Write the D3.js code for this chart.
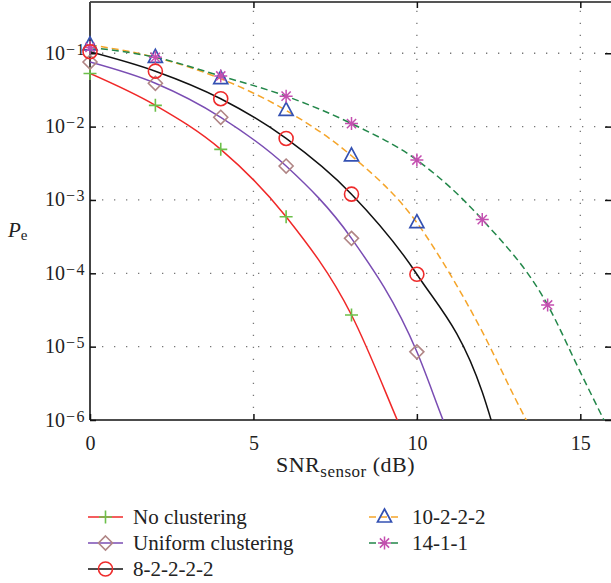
<!DOCTYPE html>
<html><head><meta charset="utf-8">
<script src="https://cdn.jsdelivr.net/npm/d3@7"></script>
<style>body{margin:0;background:#fff}svg{display:block}text{font-family:"Liberation Serif","DejaVu Serif",serif;fill:#222}</style>
</head><body><svg id="c" width="611" height="583"></svg>
<script>
// ---- data ----
const seriesNames = ["No clustering","Uniform clustering","8-2-2-2-2","10-2-2-2","14-1-1"];
const noClustX = [0,2,4,6,8,9.4,10];
const noClustY = [0.053,0.0195,0.0049,5.9e-4,2.7e-5,1e-6,2.3e-7];
const uniformX = [0,2,4,6,8,10,10.8,11.2];
const uniformY = [0.076,0.039,0.0134,0.0029,3.0e-4,8.5e-6,1e-6,3.5e-7];
const c8X = [0,2,4,6,8,10,12,12.6];
const c8Y = [0.105,0.057,0.024,0.0069,1.2e-3,9.7e-5,2.4e-6,3.2e-7];
const c10X = [0,2,4,6,8,10,11,12,13,13.6];
const c10Y = [0.13,0.088,0.045,0.0166,0.0040,4.9e-4,1e-4,1.6e-5,2.0e-6,6e-7];
const c14X = [0,2,4,6,8,10,12,14,15,16];
const c14Y = [0.12,0.088,0.049,0.026,0.011,0.0035,5.4e-4,3.7e-5,4.5e-6,5.6e-7];
const markerMaxX = [8,10,10,10,14];
const xTicks = [0,5,10,15];
const yTicks = [1e-1,1e-2,1e-3,1e-4,1e-5,1e-6];
const yTickExp = ["−1","−2","−3","−4","−5","−6"];

const seriesX = [noClustX,uniformX,c8X,c10X,c14X];
const seriesY = [noClustY,uniformY,c8Y,c10Y,c14Y];
const lineColor = ["#f02828","#7a4db3","#111111","#f5a52a","#23874a"];
const markColor = ["#6cc04a","#b08585","#ee2b2b","#3451b2","#c44fb0"];
const dash = [null,null,null,"7,4","7,4"];
const markType = ["plus","diamond","circle","triangle","star"];

// ---- layout ----
const svg = d3.select("#c");
const L=90, R=613, T=2, B=420;
const x = d3.scaleLinear().domain([0,16]).range([L,R]);
const y = d3.scaleLog().domain([1e-6,0.5]).range([B,T]);

svg.append("defs").append("clipPath").attr("id","clip")
  .append("rect").attr("x",L).attr("y",T).attr("width",R-L).attr("height",B-T);

// grid
const grid = svg.append("g").attr("stroke","#777").attr("stroke-width",1.3).attr("stroke-dasharray","1.3,10.7");
xTicks.filter(t=>t>0).forEach(t=>grid.append("line").attr("x1",x(t)).attr("x2",x(t)).attr("y1",B).attr("y2",T));
yTicks.filter(t=>t>1e-6).forEach(t=>grid.append("line").attr("x1",L).attr("x2",R).attr("y1",y(t)).attr("y2",y(t)));

// frame
svg.append("line").attr("x1",L).attr("x2",R).attr("y1",T).attr("y2",T).attr("stroke","#555").attr("stroke-width",2);
svg.append("line").attr("x1",L).attr("x2",R).attr("y1",B).attr("y2",B).attr("stroke","#111").attr("stroke-width",1.5);
svg.append("line").attr("x1",L).attr("x2",L).attr("y1",T).attr("y2",B).attr("stroke","#444").attr("stroke-width",2);

// axes ticks via d3 axes
const xa = svg.append("g").attr("transform",`translate(0,${B})`)
  .call(d3.axisBottom(x).tickValues(xTicks).tickSize(-6).tickPadding(16).tickFormat(d3.format("d")));
xa.select(".domain").remove();
xa.selectAll("line").attr("stroke","#111").attr("stroke-width",1.5);
xa.selectAll("text").attr("font-size",20).attr("font-family","Liberation Serif").attr("fill","#222");
const xt = svg.append("g").attr("transform",`translate(0,${T})`)
  .call(d3.axisTop(x).tickValues(xTicks.filter(t=>t>0)).tickSize(-6).tickFormat(""));
xt.select(".domain").remove(); xt.selectAll("line").attr("stroke","#111").attr("stroke-width",1.5);

const ya = svg.append("g").attr("transform",`translate(${L},0)`)
  .call(d3.axisLeft(y).tickValues(yTicks).tickSize(-6).tickFormat(""));
ya.select(".domain").remove(); ya.selectAll("line").attr("stroke","#111").attr("stroke-width",1.5);
const yr = svg.append("g").attr("transform",`translate(${R-2},0)`)
  .call(d3.axisRight(y).tickValues(yTicks).tickSize(-6).tickFormat(""));
yr.select(".domain").remove(); yr.selectAll("line").attr("stroke","#111").attr("stroke-width",1.5);

yTicks.forEach((t,i)=>{
  const yy = y(t)+6.5;
  const tx = svg.append("text").attr("x",86).attr("y",yy).attr("text-anchor","end").attr("font-size",20);
  tx.append("tspan").text("10");
  tx.append("tspan").attr("dx",1).attr("dy",-5).attr("font-size",16).attr("letter-spacing",1.5).text(yTickExp[i]);
});

// axis labels
const xl = svg.append("text").attr("x",276).attr("y",472).attr("font-size",22).attr("letter-spacing",0.5);
xl.append("tspan").text("SNR");
xl.append("tspan").attr("dy",5).attr("font-size",17).text("sensor");
xl.append("tspan").attr("dy",-5).text(" (dB)");
const yl = svg.append("text").attr("x",8).attr("y",237).attr("font-size",21);
yl.append("tspan").attr("font-style","italic").text("P");
yl.append("tspan").attr("dy",3).attr("font-size",15).text("e");

// markers
function marker(g, type, cx, cy, col){
  const s = 6.5;
  if(type==="plus"){
    g.append("path").attr("d",`M${cx-s},${cy}H${cx+s}M${cx},${cy-s}V${cy+s}`).attr("stroke",col).attr("stroke-width",1.6).attr("fill","none");
  } else if(type==="diamond"){
    g.append("path").attr("d",`M${cx},${cy-7}L${cx+7},${cy}L${cx},${cy+7}L${cx-7},${cy}Z`).attr("stroke",col).attr("stroke-width",1.6).attr("fill","none");
  } else if(type==="circle"){
    g.append("circle").attr("cx",cx).attr("cy",cy).attr("r",7).attr("stroke",col).attr("stroke-width",1.6).attr("fill","none");
  } else if(type==="triangle"){
    g.append("path").attr("d",`M${cx},${cy-8}L${cx+7},${cy+5}L${cx-7},${cy+5}Z`).attr("stroke",col).attr("stroke-width",1.7).attr("fill","none");
  } else {
    const d=4.6;
    g.append("path").attr("d",`M${cx-s},${cy}H${cx+s}M${cx},${cy-s}V${cy+s}M${cx-d},${cy-d}L${cx+d},${cy+d}M${cx-d},${cy+d}L${cx+d},${cy-d}`)
      .attr("stroke",col).attr("stroke-width",1.5).attr("fill","none");
  }
}

const line = d3.line().x(d=>x(d[0])).y(d=>y(d[1])).curve(d3.curveMonotoneX);
const plot = svg.append("g").attr("clip-path","url(#clip)");
seriesX.forEach((xs,i)=>{
  const pts = xs.map((v,j)=>[v,seriesY[i][j]]);
  const p = plot.append("path").attr("d",line(pts)).attr("fill","none").attr("stroke",lineColor[i]).attr("stroke-width",1.5);
  if(dash[i]) p.attr("stroke-dasharray",dash[i]);
});
const mg = svg.append("g");
[3,4,0,1,2].forEach(i=>{
  seriesX[i].forEach((v,j)=>{
    if(v%2===0 && v<=markerMaxX[i]) marker(mg, markType[i], x(v), y(seriesY[i][j]), markColor[i]);
  });
});

// legend
const legPos = [[88,517],[88,543],[88,569],[367,517],[367,543]];
seriesNames.forEach((n,i)=>{
  const [lx,ly] = legPos[i];
  const g = svg.append("g");
  const l = g.append("line").attr("x1",lx).attr("x2",lx+35).attr("y1",ly).attr("y2",ly).attr("stroke",lineColor[i]).attr("stroke-width",1.5);
  if(dash[i]) l.attr("stroke-dasharray","7,4").attr("stroke-dashoffset",-2);
  marker(g, markType[i], lx+17.5, ly, markColor[i]);
  g.append("text").attr("x",lx+45).attr("y",ly+7).attr("font-size",21).text(n);
});
</script></body></html>
